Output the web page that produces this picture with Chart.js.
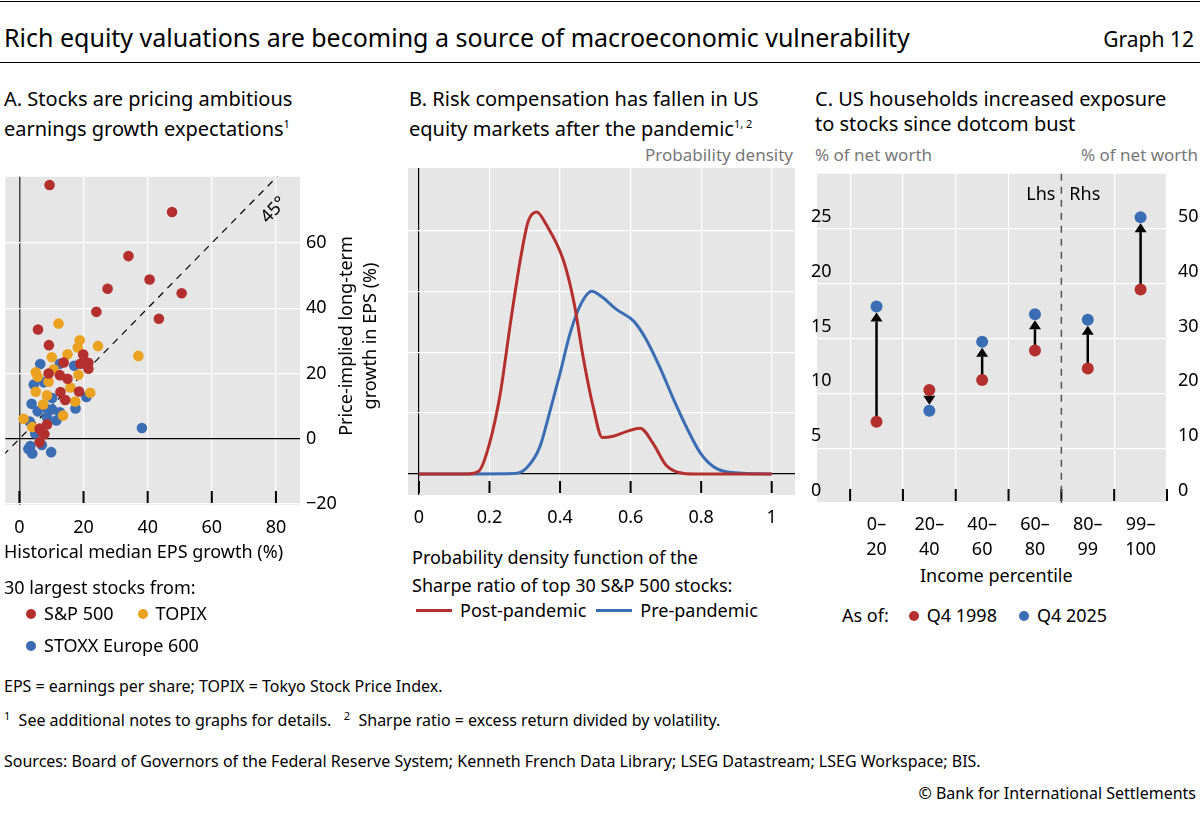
<!DOCTYPE html>
<html><head><meta charset="utf-8">
<script src="https://cdn.jsdelivr.net/npm/chart.js@4/dist/chart.umd.min.js"></script>
<style>
body{margin:0;width:1200px;height:817px;background:#fff;font-family:"Noto Sans",sans-serif;color:#000;position:relative;overflow:hidden}
.t{position:absolute;white-space:nowrap;line-height:1.2}
canvas{position:absolute}
.dot{display:inline-block;width:10px;height:10px;border-radius:5px;margin:0 8px 0 6px;vertical-align:1px}
.ln{display:inline-block;width:36px;height:3px;margin:0 8px 0 4px;vertical-align:5px}
sup{font-size:11px}
</style></head><body>
<div style="position:absolute;left:0;top:1px;width:1200px;height:1px;background:#000"></div>
<div class="t" style="left:4px;top:22px;font-size:25px">Rich equity valuations are becoming a source of macroeconomic vulnerability</div>
<div class="t" style="right:6px;top:27px;font-size:21px">Graph 12</div>
<div style="position:absolute;left:0;top:62px;width:1200px;height:1px;background:#000"></div>

<div class="t" style="left:4px;top:86px;font-size:20px;line-height:25px">A. Stocks are pricing ambitious<br>earnings growth expectations<sup>1</sup></div>
<div class="t" style="left:409px;top:86px;font-size:20px;line-height:25px">B. Risk compensation has fallen in US<br>equity markets after the pandemic<sup>1, 2</sup></div>
<div class="t" style="left:815px;top:86px;font-size:20px;line-height:25px">C. US households increased exposure<br>to stocks since dotcom bust</div>

<div class="t" style="right:407px;top:145px;font-size:17px;color:#777">Probability density</div>
<div class="t" style="left:815px;top:145px;font-size:17px;color:#777">% of net worth</div>
<div class="t" style="right:2px;top:145px;font-size:17px;color:#777">% of net worth</div>

<canvas id="cA" width="380" height="380" style="left:0;top:160px;width:380px;height:380px"></canvas>
<canvas id="cB" width="400" height="380" style="left:400px;top:160px;width:400px;height:380px"></canvas>
<canvas id="cC" width="400" height="400" style="left:800px;top:160px;width:400px;height:400px"></canvas>

<div class="t" style="left:345px;top:336px;font-size:18px;transform:rotate(-90deg);transform-origin:0 0;text-align:center;line-height:24px;width:240px;margin-top:0">
<div style="position:relative;left:-120px;top:-12px">Price-implied long-term<br>growth in EPS (%)</div></div>

<div class="t" style="left:4px;top:541px;font-size:18px">Historical median EPS growth (%)</div>
<div class="t" style="left:4px;top:577px;font-size:18px">30 largest stocks from:</div>
<div class="t" style="left:4px;top:603px;font-size:18px"><span class="dot" style="background:#b3302e;margin-left:22px"></span>S&amp;P 500<span class="dot" style="background:#eaa220;margin-left:24px"></span>TOPIX</div>
<div class="t" style="left:4px;top:635px;font-size:18px"><span class="dot" style="background:#3b6db4;margin-left:22px"></span>STOXX Europe 600</div>

<div class="t" style="left:412px;top:543px;font-size:18px;line-height:28px">Probability density function of the<br>Sharpe ratio of top 30 S&amp;P 500 stocks:</div>
<div class="t" style="left:412px;top:600px;font-size:18px"><span class="ln" style="background:#b3302e"></span>Post-pandemic<span class="ln" style="background:#3b6db4;margin-left:10px"></span>Pre-pandemic</div>

<div class="t" style="left:920px;top:565px;font-size:18px">Income percentile</div>
<div class="t" style="left:842px;top:605px;font-size:18px">As of:<span class="dot" style="background:#b3302e;margin-left:20px"></span>Q4 1998<span class="dot" style="background:#3b6db4;margin-left:22px"></span>Q4 2025</div>

<div class="t" style="left:4px;top:677px;font-size:16px">EPS = earnings per share; TOPIX = Tokyo Stock Price Index.</div>
<div class="t" style="left:4px;top:709px;font-size:16px"><sup>1</sup>&nbsp; See additional notes to graphs for details. &nbsp;&nbsp;<sup>2</sup>&nbsp; Sharpe ratio = excess return divided by volatility.</div>
<div class="t" style="left:4px;top:752px;font-size:16px">Sources: Board of Governors of the Federal Reserve System; Kenneth French Data Library; LSEG Datastream; LSEG Workspace; BIS.</div>
<div class="t" style="right:4px;top:784px;font-size:16px">© Bank for International Settlements</div>

<script>
// ---------- Panel A data (x: historical median EPS growth, y: price-implied growth) ----------
const spX = [9.4,47.6,34,40.6,50.6,27.5,24,43.5,5.8,9.2,19.9,19,21.5,21.5,13.8,9.1,12.6,15,18.6,12.8,14.3,8.6,6.3,7.8,6.3,7.1];
const spY = [77.8,69.5,56,48.8,44.6,46,38.9,36.8,33.5,28.7,25.8,23,23.3,21.5,23.4,20,19.5,18.4,14.5,14.3,11.9,4.4,3.1,1.4,-1.1,2.1];
const tpX = [12.2,18.8,18.2,24.5,37.1,15,10.1,5.1,5.7,10.7,18.4,9.1,15.9,5.1,22.1,8.6,17.4,7.4,13.6,1.3,4];
const tpY = [35.3,30.2,28,28.4,25.4,25.9,25,20.4,19,21.3,19.6,17.5,15.7,14.4,14.1,13.3,11.4,10.5,7.1,6.1,3.6];
const sxX = [6.5,12.6,17.1,4.5,7.6,3.8,20.9,10.2,17.5,5.7,12.6,8,10.2,3.2,11.5,8.6,4.9,38.2,3.4,2.8,4,7,9.9];
const sxY = [22.9,23,22.4,16.6,17.3,10.7,12.8,12.5,9.3,8.4,8.1,9.6,9,5.3,5.6,6.6,1.6,3.3,-2.2,-3.1,-4.5,-1.9,-4.1];
const aXTicks = [0,20,40,60,80];
const aYTicks = [-20,0,20,40,60];

// ---------- Panel B data ----------
const postX = [0,0.135,0.17,0.2,0.23,0.26,0.29,0.31,0.334,0.36,0.41,0.44,0.466,0.494,0.52,0.55,0.59,0.627,0.664,0.70,0.74,0.78,1];
const postY = [0,0,0.05,0.5,1.3,2.5,3.6,4.15,4.3,4.1,3.5,2.8,1.9,1.1,0.6,0.62,0.7,0.75,0.5,0.15,0.02,0,0];
const preX = [0,0.27,0.305,0.343,0.37,0.4,0.428,0.46,0.49,0.52,0.56,0.61,0.645,0.683,0.72,0.76,0.797,0.835,0.88,1];
const preY = [0,0.01,0.1,0.45,1.0,1.65,2.3,2.8,3.0,2.9,2.7,2.5,2.2,1.75,1.25,0.75,0.35,0.12,0.03,0];
const bXTicks = [0,0.2,0.4,0.6,0.8,1];
const bYTicks = [0,1,2,3,4];

// ---------- Panel C data ----------
const cCats = [["0–","20"],["20–","40"],["40–","60"],["60–","80"],["80–","99"],["99–","100"]];
const q1998 = [7.4,10.3,11.2,13.9,24.5,38.9];
const q2025 = [17.9,8.4,14.7,17.2,33.4,52.1];
const cAxis = ['y','y','y','y','y2','y2'];
const cLTicks = [0,5,10,15,20,25];
const cRTicks = [0,10,20,30,40,50];

const RED='#b3302e', BLUE='#3b6db4', ORANGE='#eaa220', BG='#e6e6e6';
Chart.defaults.font.family='"Noto Sans", sans-serif';
Chart.defaults.font.size=18;
Chart.defaults.color='#000';
Chart.defaults.animation=false;

const bgPlugin={id:'bg',beforeDraw(c){const a=c.chartArea,x=c.ctx;x.save();x.fillStyle=BG;x.fillRect(a.left,a.top,a.right-a.left,a.bottom-a.top);x.restore();}};
const tickMarks=vals=>({id:'tm',beforeDatasetsDraw(c){const x=c.ctx,sx=c.scales.x,a=c.chartArea;x.save();x.strokeStyle='#000';x.lineWidth=2;
  vals.forEach(v=>{const px=sx.getPixelForValue(v);x.beginPath();x.moveTo(px,a.bottom-14);x.lineTo(px,a.bottom-2);x.stroke();});x.restore();}});
const fix=(w,h)=>function(s){if(w!=null)s.width=w;if(h!=null)s.height=h;};
const setTicks=arr=>function(s){s.ticks=arr.map(v=>({value:v}));};
const minus=v=>String(v).replace('-','−');
const pts=(xs,ys)=>xs.map((x,i)=>({x,y:ys[i]}));

// Panel A
new Chart(document.getElementById('cA'),{
 type:'scatter',
 data:{datasets:[
  {data:[{x:-5,y:-5},{x:85,y:85}],type:'line',borderColor:'#000',borderWidth:1.2,borderDash:[7,6],pointRadius:0,order:5},
  {data:pts(sxX,sxY),backgroundColor:BLUE,borderWidth:0,pointRadius:5.3,order:3},
  {data:pts(tpX,tpY),backgroundColor:ORANGE,borderWidth:0,pointRadius:5.3,order:2},
  {data:pts(spX,spY),backgroundColor:RED,borderWidth:0,pointRadius:5.3,order:1}
 ]},
 options:{responsive:false,layout:{padding:{left:5,top:8,right:0,bottom:0}},
  plugins:{legend:{display:false},tooltip:{enabled:false}},
  scales:{
   x:{type:'linear',min:-4.4,max:87.5,afterFit:fix(null,35),afterBuildTicks:setTicks(aXTicks),
      grid:{color:c=>c.tick&&c.tick.value===0?'#444':'#fff',lineWidth:c=>c.tick&&c.tick.value===0?1.5:1.2,drawTicks:false},border:{display:false},
      ticks:{padding:12,callback:v=>minus(v)}},
   y:{type:'linear',position:'right',min:-20.3,max:80.3,afterFit:fix(80,null),afterBuildTicks:setTicks(aYTicks),
      grid:{color:c=>c.tick&&c.tick.value===0?'#000':'#fff',lineWidth:1.2,drawTicks:false},border:{display:false},
      ticks:{padding:6,callback:v=>minus(v)}}
  }},
 plugins:[bgPlugin,tickMarks(aXTicks),{id:'t45',afterDatasetsDraw(c){const x=c.ctx,sx=c.scales.x,sy=c.scales.y;x.save();x.translate(sx.getPixelForValue(80.5),sy.getPixelForValue(69));x.rotate(-Math.atan(3.35/3.21));x.font='18px "Noto Sans"';x.fillStyle='#000';x.textAlign='center';x.fillText('45°',0,0);x.restore();}}]
});

// Panel B
new Chart(document.getElementById('cB'),{
 type:'line',
 data:{datasets:[
  {data:pts(postX,postY),borderColor:RED,borderWidth:3,pointRadius:0,tension:0.4,cubicInterpolationMode:'monotone'},
  {data:pts(preX,preY),borderColor:BLUE,borderWidth:3,pointRadius:0,tension:0.4,cubicInterpolationMode:'monotone'}
 ]},
 options:{responsive:false,layout:{padding:{left:8,top:8,right:0,bottom:0}},
  plugins:{legend:{display:false},tooltip:{enabled:false}},
  scales:{
   x:{type:'linear',min:-0.031,max:1.066,afterFit:fix(null,45),afterBuildTicks:setTicks(bXTicks),
      grid:{color:c=>c.tick&&c.tick.value===0?'#000':'#fff',lineWidth:1.2,drawTicks:false},border:{display:false},
      ticks:{padding:12,callback:v=>String(v)}},
   y:{type:'linear',position:'right',min:-0.344,max:5.02,afterFit:fix(5,null),afterBuildTicks:setTicks(bYTicks),
      grid:{color:c=>c.tick&&c.tick.value===0?'#000':'#fff',lineWidth:1.2,drawTicks:false},border:{display:false},
      ticks:{mirror:false,padding:-20,labelOffset:-14}}
  }},
 plugins:[bgPlugin,tickMarks(bXTicks)]
});

// Panel C
const cxs=cCats.map((_,i)=>i+0.5);
const cLabelAt={};cxs.forEach((v,i)=>cLabelAt[v]=cCats[i]);
new Chart(document.getElementById('cC'),{
 type:'scatter',
 data:{datasets:[
  {data:cxs.slice(0,4).map((x,i)=>({x,y:q1998[i]})),yAxisID:'y',backgroundColor:RED,pointRadius:6,borderWidth:0},
  {data:cxs.slice(0,4).map((x,i)=>({x,y:q2025[i]})),yAxisID:'y',backgroundColor:BLUE,pointRadius:6,borderWidth:0},
  {data:cxs.slice(4).map((x,i)=>({x,y:q1998[i+4]})),yAxisID:'y2',backgroundColor:RED,pointRadius:6,borderWidth:0},
  {data:cxs.slice(4).map((x,i)=>({x,y:q2025[i+4]})),yAxisID:'y2',backgroundColor:BLUE,pointRadius:6,borderWidth:0}
 ]},
 options:{responsive:false,layout:{padding:{left:0,top:8,right:0,bottom:0}},
  plugins:{legend:{display:false},tooltip:{enabled:false}},
  scales:{
   x:{type:'linear',min:-0.627,max:6,afterFit:fix(null,57),afterBuildTicks:setTicks([0,0.5,1,1.5,2,2.5,3,3.5,4,4.5,5,5.5,6]),
      grid:{color:c=>c.tick&&Number.isInteger(c.tick.value)&&c.tick.value!==4?'#fff':'rgba(0,0,0,0)',lineWidth:1.2,drawTicks:false},border:{display:false},
      ticks:{padding:10,autoSkip:false,maxRotation:0,font:{size:18,lineHeight:1.35},callback:v=>cLabelAt[v]||''}},
   y:{type:'linear',position:'left',min:0,max:30,afterFit:fix(17,null),afterBuildTicks:setTicks(cLTicks),
      grid:{color:'#fff',lineWidth:1.2,drawTicks:false},border:{display:false},
      ticks:{mirror:true,padding:-6,labelOffset:-12}},
   y2:{type:'linear',position:'right',min:0,max:60,afterFit:fix(33,null),afterBuildTicks:setTicks(cRTicks),
      grid:{display:false},border:{display:false},
      ticks:{padding:3,labelOffset:-12}}
  }},
 plugins:[bgPlugin,tickMarks([0,1,2,3,4,5,6]),{id:'arrows',
  beforeDatasetsDraw(c){const x=c.ctx,sx=c.scales.x,a=c.chartArea;x.save();
   const dx=sx.getPixelForValue(4);x.setLineDash([7,6]);x.strokeStyle='#555';x.lineWidth=1.5;x.beginPath();x.moveTo(dx,a.top);x.lineTo(dx,a.bottom);x.stroke();x.setLineDash([]);
   x.font='18px "Noto Sans"';x.fillStyle='#000';x.textAlign='right';x.fillText('Lhs',dx-6,a.top+26);x.textAlign='left';x.fillText('Rhs',dx+8,a.top+26);
   cxs.forEach((xv,i)=>{const s=c.scales[cAxis[i]];const px=sx.getPixelForValue(xv);const y0=s.getPixelForValue(q1998[i]),y1=s.getPixelForValue(q2025[i]);
    const dir=y1<y0?-1:1;const tip=y1-dir*6;const h=9;
    x.strokeStyle='#000';x.lineWidth=2.5;x.beginPath();x.moveTo(px,y0);x.lineTo(px,tip-dir*h);x.stroke();
    x.fillStyle='#000';x.beginPath();x.moveTo(px,tip);x.lineTo(px-6,tip-dir*h);x.lineTo(px+6,tip-dir*h);x.closePath();x.fill();});
   x.restore();}}]
});
</script>
</body></html>
